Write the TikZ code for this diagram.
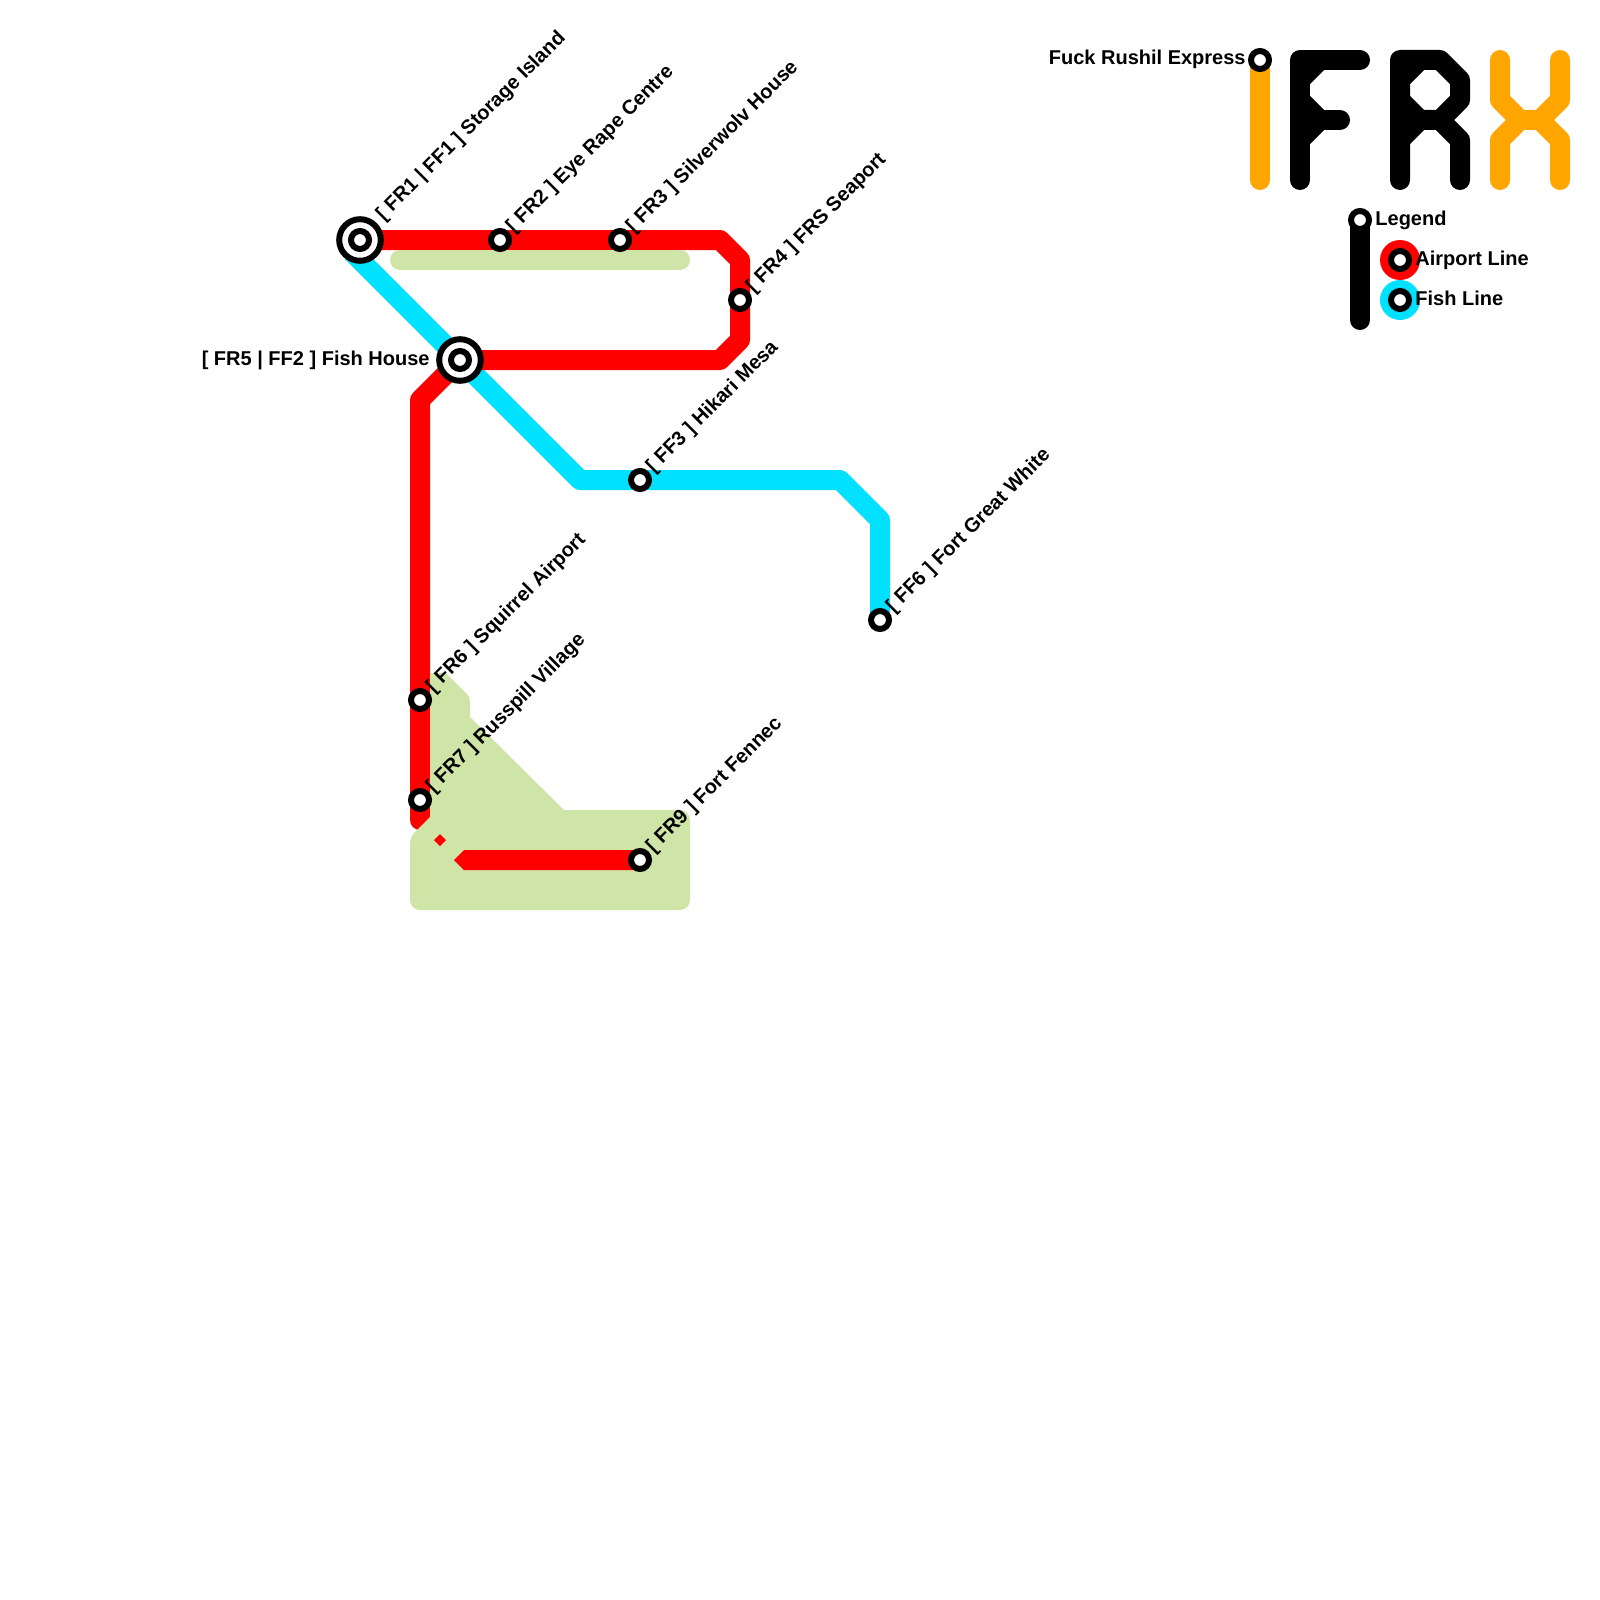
\documentclass[tikz,border=0pt]{standalone}
\usepackage{fontspec}
\setmainfont{Liberation Sans}
\definecolor{redline}{HTML}{FF0000}
\definecolor{cyanline}{HTML}{00E1FF}
\definecolor{orangeline}{HTML}{FFA500}
\definecolor{parkgreen}{HTML}{CFE4A7}
\tikzset{
  route/.style={line width=10pt,line join=round},
  capped/.style={route,line cap=round},
  stn/.style={circle,draw=black,fill=white,line width=3pt,minimum size=9pt,inner sep=0pt,outer sep=0pt},
  hubring/.style={circle,draw=black,fill=white,line width=3pt,minimum size=20.8pt,inner sep=0pt,outer sep=0pt},
  lab/.style={font=\bfseries\fontsize{10}{12}\selectfont,text=black,inner sep=0pt,text height=7pt,text depth=2pt},
  diag/.style={lab,rotate=45,anchor=west},
  swatch/.style={circle,minimum size=20pt,inner sep=0pt,outer sep=0pt}
}
\begin{document}
\begin{tikzpicture}[x=0.5pt,y=-0.5pt]
\useasboundingbox (0,0) rectangle (1600,1600);
% positions
\coordinate (p1) at (360,240);
\coordinate (p2) at (500,240);
\coordinate (p3) at (620,240);
\coordinate (p4) at (740,300);
\coordinate (p5) at (460,360);
\coordinate (p6) at (420,700);
\coordinate (p7) at (420,800);
\coordinate (p9) at (640,860);
\coordinate (f3) at (640,480);
\coordinate (f6) at (880,620);
\coordinate (rb1) at (720,240);
\coordinate (rb2) at (740,260);
\coordinate (rb3) at (740,340);
\coordinate (rb4) at (720,360);
\coordinate (rb5) at (420,400);
\coordinate (rend) at (420,820);
\coordinate (cstart) at (352,252);
\coordinate (cb1) at (580,480);
\coordinate (cb2) at (840,480);
\coordinate (cb3) at (880,520);
\coordinate (e0) at (1260,60);
\coordinate (e1) at (1260,180);
\coordinate (l0) at (1360,220);
\coordinate (l1) at (1360,320);
\coordinate (gs1) at (400,260);
\coordinate (gs2) at (680,260);
% routes
\draw[route,cyanline] (cstart) -- (p5) -- (cb1) -- (f3) -- (cb2) -- (cb3) -- (f6);
\draw[route,redline] (p1) -- (p2) -- (p3) -- (rb1) -- (rb2) -- (p4) -- (rb3) -- (rb4) -- (p5) -- (rb5) -- (p6) -- (p7);
\draw[capped,redline] (p7) -- (rend);
% green areas
\draw[capped,parkgreen] (gs1) -- (gs2);
\fill[parkgreen] (430,673) -- (446,673) [rounded corners=2pt] -- (470,697) [sharp corners] -- (470,717) -- (564,810)
  [rounded corners=5pt] -- (690,810) -- (690,910) -- (410,910) [rounded corners=3pt] -- (410,837) [sharp corners] -- (430,817) -- cycle;
% red fragments on the green
\fill[redline] (440,834) -- (446,840) -- (440,846) -- (434,840) -- cycle;
\fill[redline] (454,860) -- (464,850) -- (p9 |- 0,850) -- (p9 |- 0,870) -- (464,870) -- cycle;
% logo
\draw[capped,orangeline] (e0) -- (e1);
\draw[capped,black] (1300,180) -- (1300,60) -- (1360,60);
\draw[route,black] (1320,60) -- (1300,80);
\draw[route,black] (1300,100) -- (1320,120);
\draw[route,black] (1320,120) -- (1300,140);
\draw[capped,black] (1320,120) -- (1340,120);
\draw[capped,black] (1400,180) -- (1400,60) -- (1440,60) -- (1460,80) -- (1460,100) -- (1440,120) -- (1400,120);
\draw[capped,black] (1440,120) -- (1460,140) -- (1460,180);
\draw[route,black] (1420,60) -- (1400,80);
\draw[route,black] (1400,100) -- (1420,120);
\draw[route,black] (1420,120) -- (1400,140);
\draw[capped,orangeline] (1500,60) -- (1500,100) -- (1520,120) -- (1540,120) -- (1560,100) -- (1560,60);
\draw[capped,orangeline] (1500,180) -- (1500,140) -- (1520,120);
\draw[capped,orangeline] (1560,180) -- (1560,140) -- (1540,120);
% legend
\draw[capped,black] (l0) -- (l1);
\node[swatch,fill=redline] (sa) at (1400,260) {};
\node[swatch,fill=cyanline] (sf) at (1400,300) {};
% stations
\node[hubring] (h1) at (p1) {};
\node[hubring] (h5) at (p5) {};
\node[stn] (s1) at (p1) {};
\node[stn] (s5) at (p5) {};
\node[stn] (s2) at (p2) {};
\node[stn] (s3) at (p3) {};
\node[stn] (s4) at (p4) {};
\node[stn] (s6) at (p6) {};
\node[stn] (s7) at (p7) {};
\node[stn] (s9) at (p9) {};
\node[stn] (t3) at (f3) {};
\node[stn] (t6) at (f6) {};
\node[stn] (ex) at (e0) {};
\node[stn] (lg) at (l0) {};
\node[stn] (la) at (sa) {};
\node[stn] (lf) at (sf) {};
% labels
\node[diag] (n1) at (380,218) {[ FR1 | FF1 ] Storage Island};
\node[diag] (n2) at (510,230) {[ FR2 ] Eye Rape Centre};
\node[diag] (n3) at (630,230) {[ FR3 ] Silverwolv House};
\node[diag] (n4) at (750,290) {[ FR4 ] FRS Seaport};
\node[lab,anchor=east] (n5) at (430,360) {[ FR5 | FF2 ] Fish House};
\node[diag] (n6) at (430,690) {[ FR6 ] Squirrel Airport};
\node[diag] (n7) at (430,790) {[ FR7 ] Russpill Village};
\node[diag] (n9) at (650,850) {[ FR9 ] Fort Fennec};
\node[diag] (m3) at (650,470) {[ FF3 ] Hikari Mesa};
\node[diag] (m6) at (890,610) {[ FF6 ] Fort Great White};
\node[lab,anchor=east] (nx) at (1246,60) {Fuck Rushil Express};
\node[lab,anchor=west] (nl) at (1375,220) {Legend};
\node[lab,anchor=west] (na) at (1415,260) {Airport Line};
\node[lab,anchor=west] (nf) at (1415,300) {Fish Line};
\end{tikzpicture}
\end{document}
